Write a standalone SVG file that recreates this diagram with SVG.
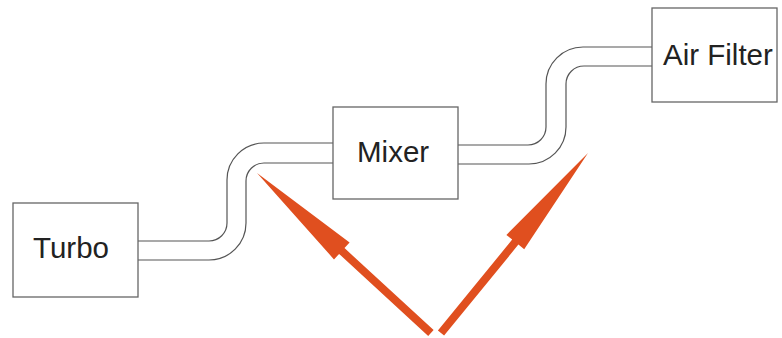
<svg xmlns="http://www.w3.org/2000/svg" width="782" height="338" viewBox="0 0 782 338">
<style>
.box{fill:#fff;stroke:#666;stroke-width:1.3}
.pipe{fill:none;stroke:#555;stroke-width:1.2}
.lbl{font-family:"Liberation Sans",Arial,sans-serif;font-size:29.5px;fill:#222}
.arrow{fill:#E04F1F}
</style>
<rect width="782" height="338" fill="#fff"/>
<g id="connectors">
<path class="pipe" d="M138,241 H209 A18,18 0 0 0 227,223 V180 A37,37 0 0 1 264,143 H333"/>
<path class="pipe" d="M138,260 H209 A37,37 0 0 0 246,223 V181 A18,18 0 0 1 264,163 H333"/>
<path class="pipe" d="M458,145 H528 A18,18 0 0 0 546,127 V84 A37,37 0 0 1 583,47 H652"/>
<path class="pipe" d="M458,164 H529 A37,37 0 0 0 566,127 V84 A18,18 0 0 1 584,66 H652"/>
</g>
<g id="turbo">
<rect class="box" x="13" y="203" width="125" height="94"/>
<text class="lbl" x="33" y="258">Turbo</text>
</g>
<g id="mixer">
<rect class="box" x="333" y="107" width="125" height="92"/>
<text class="lbl" x="357" y="162">Mixer</text>
</g>
<g id="air-filter">
<rect class="box" x="652" y="8" width="125" height="94"/>
<text class="lbl" x="663" y="65">Air Filter</text>
</g>
<g id="arrows">
<polygon class="arrow" points="257,173 349.6,242.6 344.5,248.1 433.6,330.1 428.2,335.9 339.1,253.9 334,259.4"/>
<polygon class="arrow" points="588,153 524.2,249.3 518.4,244.6 444.1,335.5 437.9,330.5 512.2,239.6 506.4,234.9"/>
</g>
</svg>
